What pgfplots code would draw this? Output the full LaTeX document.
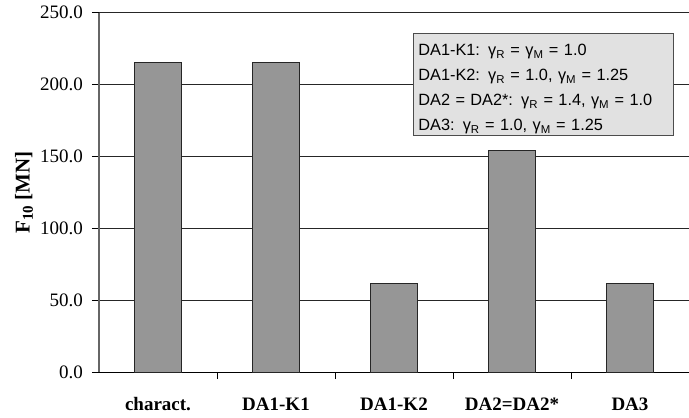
\documentclass[border=0pt]{standalone}
\usepackage{pgfplots}
\pgfplotsset{compat=1.18}
\usepackage{fontspec}
\setmainfont{Liberation Serif}
\newfontfamily\arialfont{Liberation Sans}
\definecolor{barfill}{HTML}{969696}
\definecolor{boxfill}{HTML}{E1E1E1}
\definecolor{yaxisgray}{HTML}{666666}
\newcommand\yl[1]{\fontsize{19}{19}\selectfont #1}
\begin{document}
\begin{tikzpicture}
\begin{axis}[
  at={(0,0)}, anchor=south west,
  scale only axis, width=590pt, height=359.4pt,
  xmin=-0.5, xmax=4.5, ymin=0, ymax=250,
  axis x line*=bottom, axis y line*=left,
  x axis line style={-, black, line width=1pt},
  y axis line style={-, yaxisgray, line width=1.6pt},
  ytick={0,50,100,150,200,250},
  yticklabels={\yl{0.0},\yl{50.0},\yl{100.0},\yl{150.0},\yl{200.0},\yl{250.0}},
  ymajorgrids, grid style={black!85, line width=0.8pt},
  xtick={0,1,2,3,4},
  xticklabels={charact.,DA1-K1,DA1-K2,DA2=DA2*,DA3},
  major x tick style={draw=none},
  minor xtick={0.5,1.5,2.5,3.5},
  minor x tick style={black, line width=0.8pt},
  major y tick style={black, line width=0.8pt},
  tick align=outside,
  major tick length=7pt, minor tick length=7pt,
  every y tick label/.append style={font=\fontsize{19}{19}\selectfont, xshift=-5.5pt},
  xticklabel style={font=\fontsize{19}{19}\selectfont\bfseries, yshift=-15pt},
  ylabel={\textbf{F\textsubscript{\fontsize{15}{15}\selectfont 10} [MN]}},
  ylabel style={font=\fontsize{21}{21}\selectfont, at={(rel axis cs:-0.127,0.5)}, anchor=center},
  clip=false,
]
\addplot[ybar, bar width=47.7pt, fill=barfill, draw=black!85, line width=0.9pt]
  coordinates {(0,215.3) (1,215.3) (2,61.8) (3,154.0) (4,61.8)};
\node[anchor=north west, fill=boxfill, draw=black!70, line width=1pt,
      inner xsep=5pt, inner ysep=0pt, text width=250pt, align=left,
      font=\arialfont\fontsize{16.3}{25}\selectfont]
  at (rel axis cs:0.532,0.9438)
  {\rule{0pt}{22pt}DA1-K1: γ\textsubscript{R} = γ\textsubscript{M} = 1.0\\
   DA1-K2: γ\textsubscript{R} = 1.0, γ\textsubscript{M} = 1.25\\
   DA2 = DA2*: γ\textsubscript{R} = 1.4, γ\textsubscript{M} = 1.0\\
   DA3: γ\textsubscript{R} = 1.0, γ\textsubscript{M} = 1.25\rule[-5pt]{0pt}{5pt}};
\end{axis}
\pgfresetboundingbox
\path (-99pt,-45.8pt) rectangle (590pt,372.2pt);
\end{tikzpicture}
\end{document}
